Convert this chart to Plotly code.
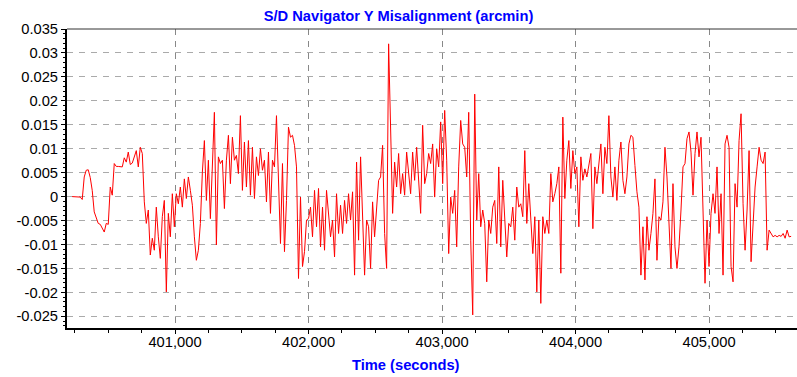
import plotly.graph_objects as go

# Sampling grid (seconds)
t_start = 400230
t_step = 15

# Y misalignment (arcmin)
y_values = [
    0.0, 0.0, 0.0, 0.0, -0.0001, -0.0006, 0.0041, 0.0055, 0.0056, 0.004,
    0.0013, -0.0032, -0.0044, -0.0056, -0.0058, -0.0067, -0.0074, -0.0056, -0.0058, 0.002,
    0.0003, 0.0069, 0.0063, 0.0063, 0.0062, 0.0062, 0.0081, 0.0072, 0.0093, 0.0067,
    0.007, 0.0086, 0.0096, 0.0062, 0.0103, 0.009, -0.0011, -0.0056, -0.0028, -0.0122,
    -0.0087, -0.0112, -0.0022, -0.0084, -0.0129, -0.0042, -0.0008, -0.0199, -0.0035, -0.0084,
    0.0006, -0.0063, 0.0006, -0.0015, 0.002, -0.0022, 0.0037,
    -0.0004, 0.0041, 0.0013, -0.0018, -0.0084, -0.0133, -0.0112, -0.0056, 0.0051, 0.0117,
    -0.0008, 0.0076, -0.0046, 0.0076, 0.0176, -0.0101, 0.0083, 0.0069, 0.0076, -0.0025,
    0.0076, 0.0128, 0.0027, 0.0124, 0.0076, 0.0086, 0.0048, 0.0169, 0.0013, 0.0114,
    0.002, 0.0117, 0.0003, 0.0103, -0.0004, 0.0083, 0.0044, 0.01, 0.0055, 0.0076,
    -0.0011, 0.0093, -0.0035, 0.0076, 0.0062, 0.0169, 0.002, -0.0098, 0.0069, -0.0115,
    -0.0008, 0.0145, 0.0124, 0.0128, 0.0107, 0.0062, -0.0171, -0.0001, -0.0146, -0.0115,
    -0.0049, -0.0046, -0.0022, -0.0084, 0.0013, -0.0063, 0.0017, -0.0105, -0.0022, -0.0112,
    0.0013, -0.0028, -0.0084, -0.0049, -0.0126, 0.0006, -0.0077, -0.0018, -0.0077, -0.0008,
    -0.0056, 0.0006, -0.0049, 0.001, -0.0164, 0.0072, -0.0091, 0.0083, -0.0063, -0.0164,
    -0.0049, -0.0063, -0.015, -0.0011, -0.0084, -0.0032, 0.0034, 0.0041, 0.0107, -0.0077,
    -0.015, 0.0319, 0.0117, -0.0035, 0.0072, 0.002, 0.009, 0.0006, 0.0048, 0.0003,
    0.0093, 0.0041, 0.0006, 0.0093, 0.0034, 0.0103, 0.0041, -0.0035, 0.0149, 0.0027,
    0.0048, 0.009, 0.0069, 0.011, -0.0001, 0.01, 0.0062, 0.0156, 0.0027, 0.018,
    0.0076, -0.0119, -0.0001, -0.0035, 0.0013, -0.0105, 0.0062, 0.0159, 0.011, 0.0103,
    0.0041, 0.0176, -0.0091, -0.0247, 0.0214, -0.0049, 0.0048, -0.0063, -0.0028, -0.0056,
    -0.0178, -0.0049, -0.0077, -0.0022, -0.0008, -0.0098, 0.0062, -0.0105, 0.0034, -0.0035,
    -0.0126, -0.0056, -0.0063, -0.0022, -0.0091, 0.002, -0.0022, -0.0015, -0.0042, 0.0096,
    -0.0056, 0.0027, -0.0049, -0.0119, -0.0042, -0.0199, -0.0049, -0.0223, -0.0042, -0.0077,
    -0.0049, -0.0077, 0.0048, -0.0011, 0.0006, 0.0027, 0.0062, -0.016, 0.0166, -0.0004,
    0.0076, 0.0117, 0.0017, 0.0096, 0.0048, 0.0062, -0.0063, 0.0083, 0.0034, 0.0058,
    0.0041, 0.0069, 0.009, -0.0067, 0.0062, 0.0027, 0.0076, 0.011, 0.0006, 0.0103,
    0.0069, 0.0169, 0.0041, -0.0001, 0.0062, -0.0008, 0.0076, 0.0114, 0.0034, 0.0006,
    0.0041, 0.011, 0.0128, 0.0124, 0.0065, 0.001, -0.0022, -0.0164, -0.0063, -0.0174,
    -0.0042, -0.0112, -0.0077, -0.0035, 0.0037, -0.0133, -0.0042, -0.0049, -0.0011, 0.0103,
    0.0041, -0.0056, -0.015, 0.0027, -0.0105, -0.015, -0.0105, -0.0028, 0.0062, 0.0069,
    0.0121, 0.0135, 0.0093, 0.0003, 0.009, 0.0135, 0.0083, 0.0124, -0.0008, -0.0181,
    -0.0049, -0.0146, -0.0035, 0.0006, -0.0035, 0.0062, -0.0077, 0.0006, -0.0164, 0.011,
    0.0128, 0.0103, -0.0146, -0.0178, 0.0027, -0.0022, 0.0117, 0.0173, -0.0015, -0.0112,
    -0.0028, 0.0096, -0.0136, -0.0063, 0.002, 0.0062, 0.0103, 0.0076, 0.0069, 0.0093,
    -0.0112, -0.007, -0.0077, -0.0084, -0.0081, -0.0084, -0.0081, -0.0083, -0.0077, -0.0087,
    -0.007, -0.0084, -0.0083,
]
times = [t_start + t_step * i for i in range(len(y_values))]

x_tick_vals = [401000, 402000, 403000, 404000, 405000]
x_tick_text = ["401,000", "402,000", "403,000", "404,000", "405,000"]
y_tick_vals = [0.035, 0.03, 0.025, 0.02, 0.015, 0.01, 0.005, 0, -0.005, -0.01, -0.015, -0.02, -0.025]
y_tick_text = ["0.035", "0.03", "0.025", "0.02", "0.015", "0.01", "0.005", "0",
               "-0.005", "-0.01", "-0.015", "-0.02", "-0.025"]

FONT = "Liberation Sans, Arial, sans-serif"

fig = go.Figure()
fig.add_trace(go.Scatter(x=times, y=y_values, mode="lines",
                         line=dict(color="#ff0000", width=1), hoverinfo="skip"))

fig.update_layout(
    width=797, height=377,
    margin=dict(l=67, r=0, t=29, b=49),
    paper_bgcolor="white", plot_bgcolor="white",
    showlegend=False,
    font=dict(family=FONT, size=14.7, color="black"),
    title=dict(text="<b>S/D Navigator Y Misalignment (arcmin)</b>",
               x=0.5, xref="container", xanchor="center",
               y=0.957, yref="container", yanchor="middle",
               font=dict(family=FONT, size=14.7, color="#0000ff")),
)

fig.update_xaxes(
    range=[400191, 405659],
    tickvals=x_tick_vals, ticktext=x_tick_text,
    ticks="outside", ticklen=4, tickcolor="black", tickwidth=1,
    ticklabelstandoff=-5,
    showline=True, linecolor="black", linewidth=2,
    showgrid=True, gridcolor="#888888", griddash="6px,6px", gridwidth=1,
    minor=dict(dtick=250, tick0=401000, ticks="outside", ticklen=3,
               tickcolor="black", showgrid=False),
    zeroline=False,
    tickfont=dict(family=FONT, size=14.7, color="black"),
)
fig.update_yaxes(
    range=[-0.02744, 0.035],
    tickvals=y_tick_vals, ticktext=y_tick_text,
    ticks="outside", ticklen=4, tickcolor="black", tickwidth=1,
    showline=True, linecolor="black", linewidth=2,
    showgrid=True, gridcolor="#aaaaaa", griddash="6px,6px", gridwidth=1,
    minor=dict(dtick=0.001, tick0=0, ticks="outside", ticklen=2,
               tickcolor="black", showgrid=False),
    zeroline=False,
    tickfont=dict(family=FONT, size=14.7, color="black"),
)

# top border
fig.add_shape(type="line", xref="paper", yref="paper", x0=0, x1=1, y0=1, y1=1,
              line=dict(color="#333333", width=1))

# x-axis title
fig.add_annotation(text="<b>Time (seconds)</b>", xref="paper", yref="paper",
                   x=(406 - 67) / 730, y=0, yshift=-37, xanchor="center", yanchor="middle",
                   showarrow=False, font=dict(family=FONT, size=14.7, color="#0000ff"))

fig.write_html("out.html", config={"displayModeBar": False},
               post_script="document.body.style.margin='0';")
